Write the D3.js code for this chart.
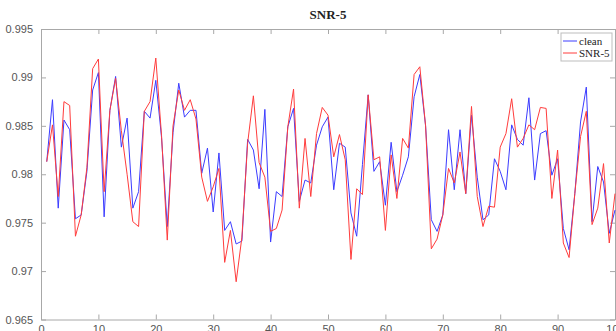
<!DOCTYPE html>
<html>
<head>
<meta charset="utf-8">
<script src="https://cdn.jsdelivr.net/npm/d3@7"></script>
<style>
  body { margin: 0; background: #fff; }
  .axis text { fill: #555; font-family: 'Liberation Sans', Arial, sans-serif; font-size: 11px; }
  .axis line, .axis path { stroke: #a8a8a8; }
  .title { font-family: 'Liberation Serif', 'Times New Roman', serif; font-size: 13px; font-weight: bold; fill: #222; }
  .legend text { font-family: 'Liberation Serif', 'Times New Roman', serif; font-size: 11px; fill: #222; }
</style>
</head>
<body>
<div id="chart"></div>
<script>
const title = "SNR-5";
const seriesNames = ["clean", "SNR-5"];
const xTicks = [0, 10, 20, 30, 40, 50, 60, 70, 80, 90, 100];
const yTicks = [0.965, 0.97, 0.975, 0.98, 0.985, 0.99, 0.995];

// sample index 1..100
const clean = [
  0.9813, 0.9877, 0.9765, 0.9856, 0.9846, 0.9754, 0.9758, 0.9803, 0.9887, 0.9905,
  0.9756, 0.9866, 0.9901, 0.9828, 0.9858, 0.9765, 0.9782, 0.9865, 0.9858, 0.9897,
  0.9838, 0.9746, 0.9843, 0.9894, 0.9859, 0.9866, 0.9866, 0.9801, 0.9827, 0.9761,
  0.9822, 0.9742, 0.9751, 0.9728, 0.9731, 0.9836, 0.9825, 0.9785, 0.9867, 0.9730,
  0.9782, 0.9777, 0.9849, 0.9868, 0.9772, 0.9794, 0.9791, 0.9830, 0.9849, 0.9859,
  0.9784, 0.9832, 0.9828, 0.9760, 0.9736, 0.9810, 0.9882, 0.9803, 0.9813, 0.9768,
  0.9833, 0.9782, 0.9799, 0.9818, 0.9880, 0.9903, 0.9850, 0.9753, 0.9741, 0.9758,
  0.9846, 0.9784, 0.9846, 0.9780, 0.9861, 0.9797, 0.9753, 0.9758, 0.9816, 0.9803,
  0.9784, 0.9851, 0.9836, 0.9830, 0.9879, 0.9794, 0.9842, 0.9845, 0.9799, 0.9816,
  0.9744, 0.9722, 0.9780, 0.9854, 0.9890, 0.9751, 0.9808, 0.9792, 0.9739, 0.9763
];
const snr5 = [
  0.9813, 0.9851, 0.9777, 0.9875, 0.9871, 0.9736, 0.9758, 0.9807, 0.9909, 0.9919,
  0.9782, 0.9866, 0.9899, 0.9845, 0.9800, 0.9751, 0.9746, 0.9865, 0.9875, 0.9920,
  0.9840, 0.9732, 0.9850, 0.9887, 0.9866, 0.9877, 0.9857, 0.9797, 0.9772, 0.9787,
  0.9806, 0.9709, 0.9742, 0.9689, 0.9735, 0.9832, 0.9881, 0.9812, 0.9797, 0.9741,
  0.9744, 0.9763, 0.9849, 0.9888, 0.9765, 0.9837, 0.9777, 0.9842, 0.9869, 0.9861,
  0.9818, 0.9841, 0.9815, 0.9712, 0.9785, 0.9779, 0.9882, 0.9815, 0.9818, 0.9742,
  0.9820, 0.9775, 0.9837, 0.9827, 0.9903, 0.9911, 0.9850, 0.9723, 0.9733, 0.9758,
  0.9806, 0.9791, 0.9823, 0.9780, 0.9870, 0.9777, 0.9746, 0.9767, 0.9766, 0.9828,
  0.9842, 0.9878, 0.9828, 0.9837, 0.9851, 0.9846, 0.9869, 0.9868, 0.9775, 0.9825,
  0.9729, 0.9714, 0.9780, 0.9839, 0.9865, 0.9748, 0.9765, 0.9811, 0.9729, 0.9780
];

const width = 616, height = 331;
const margin = { top: 29, right: 1, bottom: 11.5, left: 41 };
const iw = width - margin.left - margin.right;
const ih = height - margin.top - margin.bottom;

const svg = d3.select("#chart").append("svg")
  .attr("width", width).attr("height", height);

const g = svg.append("g").attr("transform", `translate(${margin.left},${margin.top})`);

const x = d3.scaleLinear().domain([0, 100]).range([0, iw]);
const y = d3.scaleLinear().domain([0.965, 0.995]).range([ih, 0]);

// box with inward ticks (matlab style)
g.append("g").attr("class", "axis")
  .attr("transform", `translate(0,${ih})`)
  .call(d3.axisBottom(x).tickValues(xTicks).tickSizeInner(-5).tickSizeOuter(0).tickPadding(6));
g.append("g").attr("class", "axis")
  .call(d3.axisTop(x).tickValues(xTicks).tickSizeInner(-5).tickSizeOuter(0).tickFormat(""));
g.append("g").attr("class", "axis")
  .call(d3.axisLeft(y).tickValues(yTicks).tickSizeInner(-5).tickSizeOuter(0).tickPadding(8)
    .tickFormat(d => d3.format("")(+d.toFixed(3))));
g.append("g").attr("class", "axis")
  .attr("transform", `translate(${iw},0)`)
  .call(d3.axisRight(y).tickValues(yTicks).tickSizeInner(-5).tickSizeOuter(0).tickFormat(""));

const line = d3.line().x((d, i) => x(i + 1)).y(d => y(d));

g.append("path").datum(clean)
  .attr("fill", "none").attr("stroke", "#3c3cff").attr("stroke-width", 1).attr("d", line);
g.append("path").datum(snr5)
  .attr("fill", "none").attr("stroke", "#ff3c3c").attr("stroke-width", 1).attr("d", line);

g.append("text").attr("class", "title")
  .attr("x", iw / 2).attr("y", -10).attr("text-anchor", "middle").text(title);

// legend
const lg = g.append("g").attr("class", "legend").attr("transform", `translate(${iw - 54},4)`);
lg.append("rect").attr("width", 51).attr("height", 28)
  .attr("fill", "#fff").attr("stroke", "#bdbdbd");
const colors = ["#3c3cff", "#ff3c3c"];
seriesNames.forEach((n, i) => {
  const yy = 8 + i * 12;
  lg.append("line").attr("x1", 2).attr("x2", 16).attr("y1", yy).attr("y2", yy)
    .attr("stroke", colors[i]);
  lg.append("text").attr("x", 18).attr("y", yy + 4).text(n);
});
</script>
</body>
</html>
